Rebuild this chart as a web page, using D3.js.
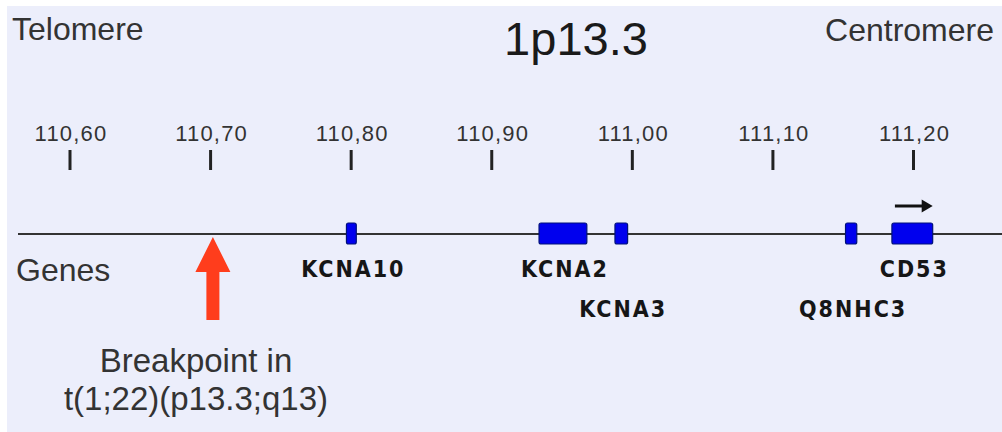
<!DOCTYPE html>
<html>
<head>
<meta charset="utf-8">
<script src="https://cdn.jsdelivr.net/npm/d3@7"></script>
<style>
  html, body { margin: 0; padding: 0; background: #ffffff; }
  svg { display: block; }
</style>
</head>
<body>
<svg id="chart" width="1002" height="432"></svg>
<script>
// ---- data ----
const tickValues = [110.60, 110.70, 110.80, 110.90, 111.00, 111.10, 111.20];
const tickLabels = ["110,60", "110,70", "110,80", "110,90", "111,00", "111,10", "111,20"];
const geneNames  = ["KCNA10", "KCNA2", "KCNA3", "Q8NHC3", "CD53"];
const geneStart  = [110.797, 110.934, 110.988, 111.152, 111.185];
const geneEnd    = [110.804, 110.968, 110.997, 111.160, 111.214];
const geneLabelRow = [0, 0, 1, 1, 0];
const directionGene = "CD53";
const breakpoint = 110.702;
const breakpointLabel = ["Breakpoint in", "t(1;22)(p13.3;q13)"];
const bandTitle = "1p13.3";
const leftLabel = "Telomere";
const rightLabel = "Centromere";
const trackLabel = "Genes";

// ---- layout ----
const W = 1002, H = 432;
const svg = d3.select("#chart");
const x = d3.scaleLinear().domain([110.6, 111.2]).range([69.5, 913]);

const lineY = 234;
const boxH = 21;
const txt = "#333";
const sans = "'Liberation Sans', Arial, sans-serif";
const cond = "'DejaVu Sans Condensed', 'Liberation Sans', sans-serif";

// background panel
svg.append("rect").attr("x", 7).attr("y", 6).attr("width", W - 7).attr("height", H - 6)
  .attr("fill", "#eceefb");

// header texts
svg.append("text").attr("x", 12).attr("y", 40).text(leftLabel)
  .attr("font-family", sans).attr("font-size", 32).attr("fill", txt);
svg.append("text").attr("x", 994).attr("y", 41).attr("text-anchor", "end").text(rightLabel)
  .attr("font-family", sans).attr("font-size", 32).attr("fill", txt);
svg.append("text").attr("x", 576).attr("y", 55).attr("text-anchor", "middle").text(bandTitle)
  .attr("font-family", sans).attr("font-size", 47).attr("fill", "#1a1a1a");

// axis (ticks with labels above)
const axis = d3.axisTop(x)
  .tickValues(tickValues)
  .tickFormat((d, i) => tickLabels[i])
  .tickSize(20)
  .tickPadding(9);
const gAxis = svg.append("g").attr("transform", `translate(0,170)`).call(axis);
gAxis.select(".domain").remove();
gAxis.selectAll(".tick line").attr("stroke", "#222").attr("stroke-width", 3);
gAxis.selectAll(".tick text")
  .attr("font-family", sans).attr("font-size", 22).attr("fill", "#333")
  .attr("letter-spacing", 1.2).attr("dx", 1);

// gene track line
svg.append("line").attr("x1", 18).attr("x2", W).attr("y1", lineY).attr("y2", lineY)
  .attr("stroke", "#333").attr("stroke-width", 2);

svg.append("text").attr("x", 16).attr("y", 281).text(trackLabel)
  .attr("font-family", sans).attr("font-size", 32).attr("fill", txt);

// genes
const genes = geneNames.map((n, i) => ({ name: n, s: geneStart[i], e: geneEnd[i], row: geneLabelRow[i] }));
svg.selectAll("rect.gene").data(genes).enter().append("rect")
  .attr("class", "gene")
  .attr("x", d => x(d.s)).attr("width", d => x(d.e) - x(d.s))
  .attr("y", lineY - boxH / 2 - 0.5).attr("height", boxH)
  .attr("rx", 2)
  .attr("fill", "#0000ee").attr("stroke", "#00107a").attr("stroke-width", 1.2);

svg.selectAll("text.gene").data(genes).enter().append("text")
  .attr("class", "gene")
  .attr("x", d => (x(d.s) + x(d.e)) / 2 + 2)
  .attr("y", d => 277 + d.row * 40)
  .attr("text-anchor", "middle")
  .attr("font-family", cond).attr("font-weight", "bold").attr("font-size", 23)
  .attr("letter-spacing", 2)
  .attr("fill", "#161616")
  .text(d => d.name);

// transcription direction arrow
const dg = genes.find(g => g.name === directionGene);
const ax0 = x(dg.s) + 3, ax1 = x(dg.e);
svg.append("line").attr("x1", ax0).attr("x2", ax1 - 8).attr("y1", 206).attr("y2", 206)
  .attr("stroke", "#111").attr("stroke-width", 3);
svg.append("path")
  .attr("d", `M${ax1},206 L${ax1 - 11},199.5 L${ax1 - 11},212.5 Z`)
  .attr("fill", "#111");

// breakpoint arrow
const bx = x(breakpoint);
const tipY = 237, headY = 272, baseY = 320, headHW = 17.5, shaftHW = 6.5;
svg.append("path")
  .attr("d", `M${bx},${tipY} L${bx + headHW},${headY} L${bx + shaftHW},${headY} L${bx + shaftHW},${baseY}
              L${bx - shaftHW},${baseY} L${bx - shaftHW},${headY} L${bx - headHW},${headY} Z`)
  .attr("fill", "#ff3d1c");

svg.selectAll("text.bp").data(breakpointLabel).enter().append("text")
  .attr("class", "bp")
  .attr("x", 196).attr("y", (d, i) => 372 + i * 38)
  .attr("text-anchor", "middle")
  .attr("font-family", sans).attr("font-size", 33).attr("fill", txt)
  .text(d => d);
</script>
</body>
</html>
